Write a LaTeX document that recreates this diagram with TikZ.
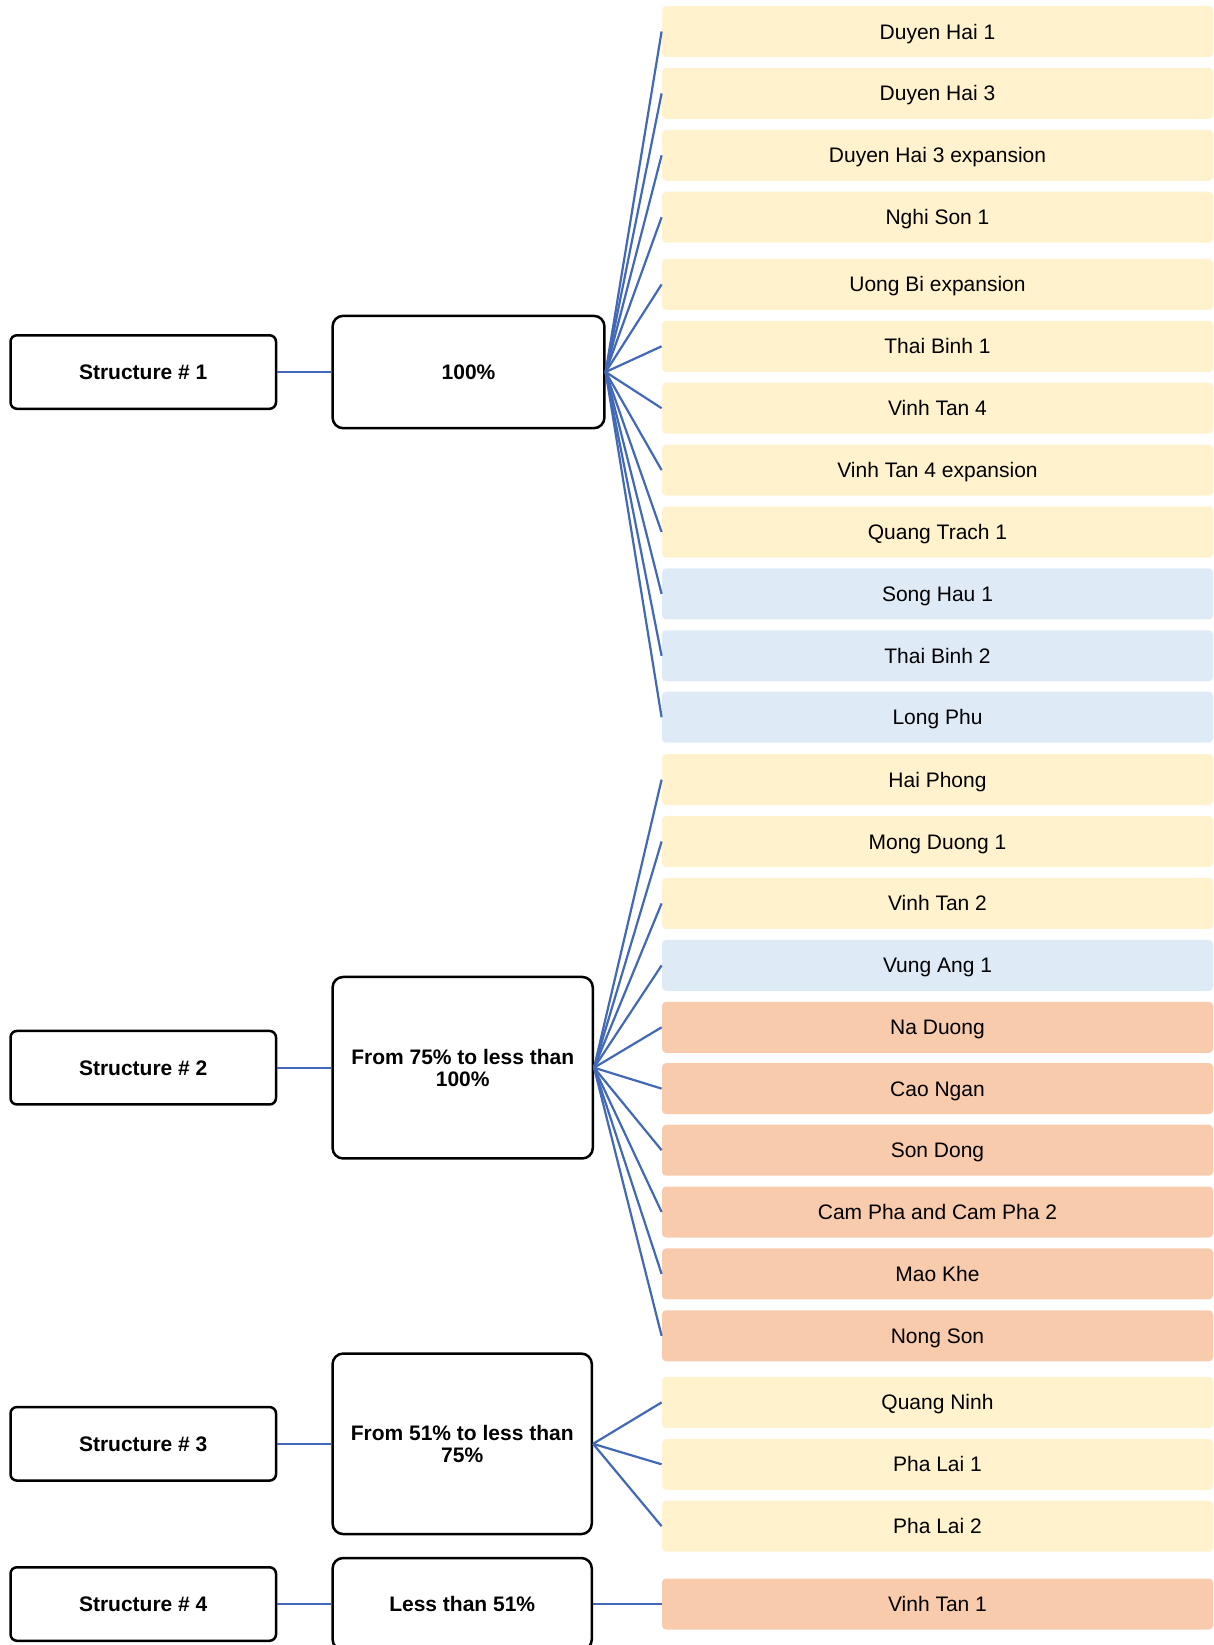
\documentclass[tikz,border=0pt]{standalone}
\usepackage{fontspec}
\setmainfont{Liberation Sans}
\definecolor{cy}{HTML}{FFF2CC}
\definecolor{cb}{HTML}{DEEBF7}
\definecolor{co}{HTML}{F8CBAD}
\definecolor{lk}{HTML}{4169B5}
\begin{document}
\begin{tikzpicture}[x=0.5pt,y=-0.5pt,
  every node/.style={font=\fontsize{10.5}{11}\selectfont, inner sep=0pt},
  oneline/.style={text height=7.5pt, text depth=0pt},
  structbox/.style={draw=black, line width=1.25pt, rounded corners=3.2pt, minimum width=132.75pt, minimum height=36.75pt, oneline, font=\fontsize{10.5}{11}\selectfont\bfseries},
  levelbox/.style={draw=black, line width=1.25pt, rounded corners=5.25pt, align=center, font=\fontsize{10.5}{11}\selectfont\bfseries},
  plantbox/.style={fill=#1, rounded corners=2pt, minimum width=275.5pt, minimum height=25.5pt, oneline},
  link/.style={draw=lk, line width=1.1pt}]
\useasboundingbox (0,0) rectangle (1214,1645);

% structure boxes
\node[structbox] (s1) at (143.25,372) {Structure \# 1};
\node[structbox] (s2) at (143.25,1067.7) {Structure \# 2};
\node[structbox] (s3) at (143.25,1443.8) {Structure \# 3};
\node[structbox] (s4) at (143.25,1604) {Structure \# 4};

% level boxes
\node[levelbox, oneline, minimum width=135.9pt, minimum height=56.15pt] (m1) at (468.5,372) {100\%};
\node[levelbox, minimum width=130.1pt, minimum height=90.75pt] (m2) at (462.7,1067.7) {From 75\% to less than\\100\%};
\node[levelbox, minimum width=129.6pt, minimum height=90.25pt] (m3) at (462.2,1443.8) {From 51\% to less than\\75\%};
\node[levelbox, oneline, minimum width=129.6pt, minimum height=46pt] (m4) at (462.2,1604) {Less than 51\%};

% plant boxes
\foreach \n/\yy/\c/\t in {
  1/31.5/cy/Duyen Hai 1,
  2/93.4/cy/Duyen Hai 3,
  3/155.3/cy/Duyen Hai 3 expansion,
  4/217.2/cy/Nghi Son 1,
  5/284.4/cy/Uong Bi expansion,
  6/346.3/cy/Thai Binh 1,
  7/408.2/cy/Vinh Tan 4,
  8/470.1/cy/Vinh Tan 4 expansion,
  9/532/cy/Quang Trach 1,
  10/593.9/cb/Song Hau 1,
  11/655.8/cb/Thai Binh 2,
  12/717.2/cb/Long Phu,
  13/779.6/cy/Hai Phong,
  14/841.5/cy/Mong Duong 1,
  15/903.4/cy/Vinh Tan 2,
  16/965.4/cb/Vung Ang 1,
  17/1027.3/co/Na Duong,
  18/1088.6/co/Cao Ngan,
  19/1150.2/co/Son Dong,
  20/1212/co/Cam Pha and Cam Pha 2,
  21/1273.9/co/Mao Khe,
  22/1335.8/co/Nong Son,
  23/1402.4/cy/Quang Ninh,
  24/1464.3/cy/Pha Lai 1,
  25/1526.2/cy/Pha Lai 2,
  26/1604/co/Vinh Tan 1}
  {\node[plantbox=\c] (r\n) at (937.5,\yy) {\t};}

% connectors
\foreach \i in {1,...,4} \draw[link] (s\i.east) -- (m\i.west);
\foreach \i in {1,...,12} \draw[link] (m1.east) -- (r\i.west);
\foreach \i in {13,...,22} \draw[link] (m2.east) -- (r\i.west);
\foreach \i in {23,...,25} \draw[link] (m3.east) -- (r\i.west);
\draw[link] (m4.east) -- (r26.west);
\end{tikzpicture}
\end{document}
